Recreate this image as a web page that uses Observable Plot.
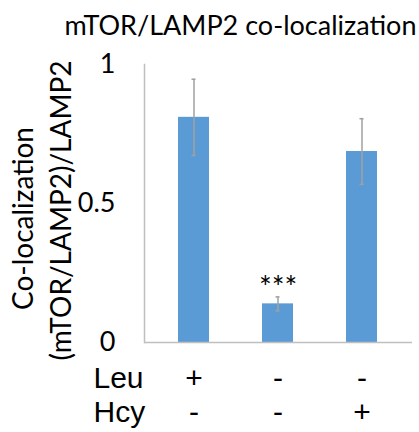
<!DOCTYPE html>
<html>
<head>
<meta charset="utf-8">
<script src="https://cdn.jsdelivr.net/npm/d3@7"></script>
<script src="https://cdn.jsdelivr.net/npm/@observablehq/plot@0.6"></script>
<style>
  html, body { margin: 0; padding: 0; background: #fff; }
</style>
</head>
<body>
<div id="chart"></div>
<script>
const categories = ["Leu+ Hcy-", "Leu- Hcy-", "Leu- Hcy+"];
const values = [0.81, 0.139, 0.687];
const errors = [0.137, 0.025, 0.118];
const leuRow = ["+", "-", "-"];
const hcyRow = ["-", "-", "+"];
const significance = ["", "***", ""];
const yTicks = [0, 0.5, 1];
const title = "mTOR/LAMP2 co-localization";
const yLabel1 = "Co-localization";
const yLabel2 = "(mTOR/LAMP2)/LAMP2";

const data = categories.map((c, i) => ({
  cat: c, value: values[i], err: errors[i],
  leu: leuRow[i], hcy: hcyRow[i], sig: significance[i]
}));

const fontCal = "Lato, 'Open Sans', sans-serif";
const fontArial = "'Liberation Sans', Arial, sans-serif";

const chart = Plot.plot({
  width: 419,
  height: 432,
  marginTop: 64,
  marginBottom: 90,
  marginLeft: 144,
  marginRight: 7,
  style: { background: "#fff", fontFamily: fontCal, overflow: "visible" },
  x: { domain: categories, paddingInner: 0.63, paddingOuter: 0.405, axis: null },
  y: { domain: [0, 1], axis: null },
  marks: [
    Plot.barY(data, { x: "cat", y: "value", fill: "#5B9BD5" }),
    Plot.ruleX(data, { x: "cat", y1: d => d.value - d.err, y2: d => d.value + d.err, stroke: "#a0a0a0", strokeWidth: 1.5 }),
    Plot.tickY(data, { x: "cat", y: d => d.value + d.err, stroke: "#a0a0a0", strokeWidth: 1.5, insetLeft: 13.5, insetRight: 13.5 }),
    Plot.tickY(data, { x: "cat", y: d => d.value - d.err, stroke: "#a0a0a0", strokeWidth: 1.5, insetLeft: 13.5, insetRight: 13.5 }),
    Plot.ruleY([0], { stroke: "#bfbfbf", strokeWidth: 1.5 }),
    Plot.frame({ anchor: "left", stroke: "#bfbfbf", strokeWidth: 1.5 }),
    Plot.text(yTicks, { frameAnchor: "left", y: d => d, text: d => String(d), textAnchor: "end", dx: -29, fontSize: 27, fill: "#000", fontFamily: fontCal }),
    Plot.text(data.filter(d => d.sig), { x: "cat", y: d => d.value + d.err, text: "sig", dy: -9, fontSize: 30, fill: "#000", fontFamily: fontCal }),
    Plot.text(data, { x: "cat", frameAnchor: "bottom", text: "leu", dy: 45, fontSize: 30, fill: "#000", fontFamily: fontArial }),
    Plot.text(data, { x: "cat", frameAnchor: "bottom", text: "hcy", dy: 79, fontSize: 30, fill: "#000", fontFamily: fontArial }),
    Plot.text(["Leu"], { frameAnchor: "bottom-left", textAnchor: "start", dx: -51, dy: 45, fontSize: 30, fill: "#000", fontFamily: fontArial }),
    Plot.text(["Hcy"], { frameAnchor: "bottom-left", textAnchor: "start", dx: -51, dy: 79, fontSize: 30, fill: "#000", fontFamily: fontArial }),
    Plot.text([title], { frameAnchor: "top", dx: -38, dy: -49, fontSize: 27, fill: "#000", fontFamily: fontCal }),
    Plot.text([yLabel1], { frameAnchor: "left", textAnchor: "middle", lineAnchor: "middle", rotate: -90, dx: -120, dy: 15, fontSize: 28, fill: "#000", fontFamily: fontCal }),
    Plot.text([yLabel2], { frameAnchor: "left", textAnchor: "middle", lineAnchor: "middle", rotate: -90, dx: -82, dy: 7, fontSize: 28, fill: "#000", fontFamily: fontCal })
  ]
});

document.getElementById("chart").appendChild(chart);
</script>
</body>
</html>
